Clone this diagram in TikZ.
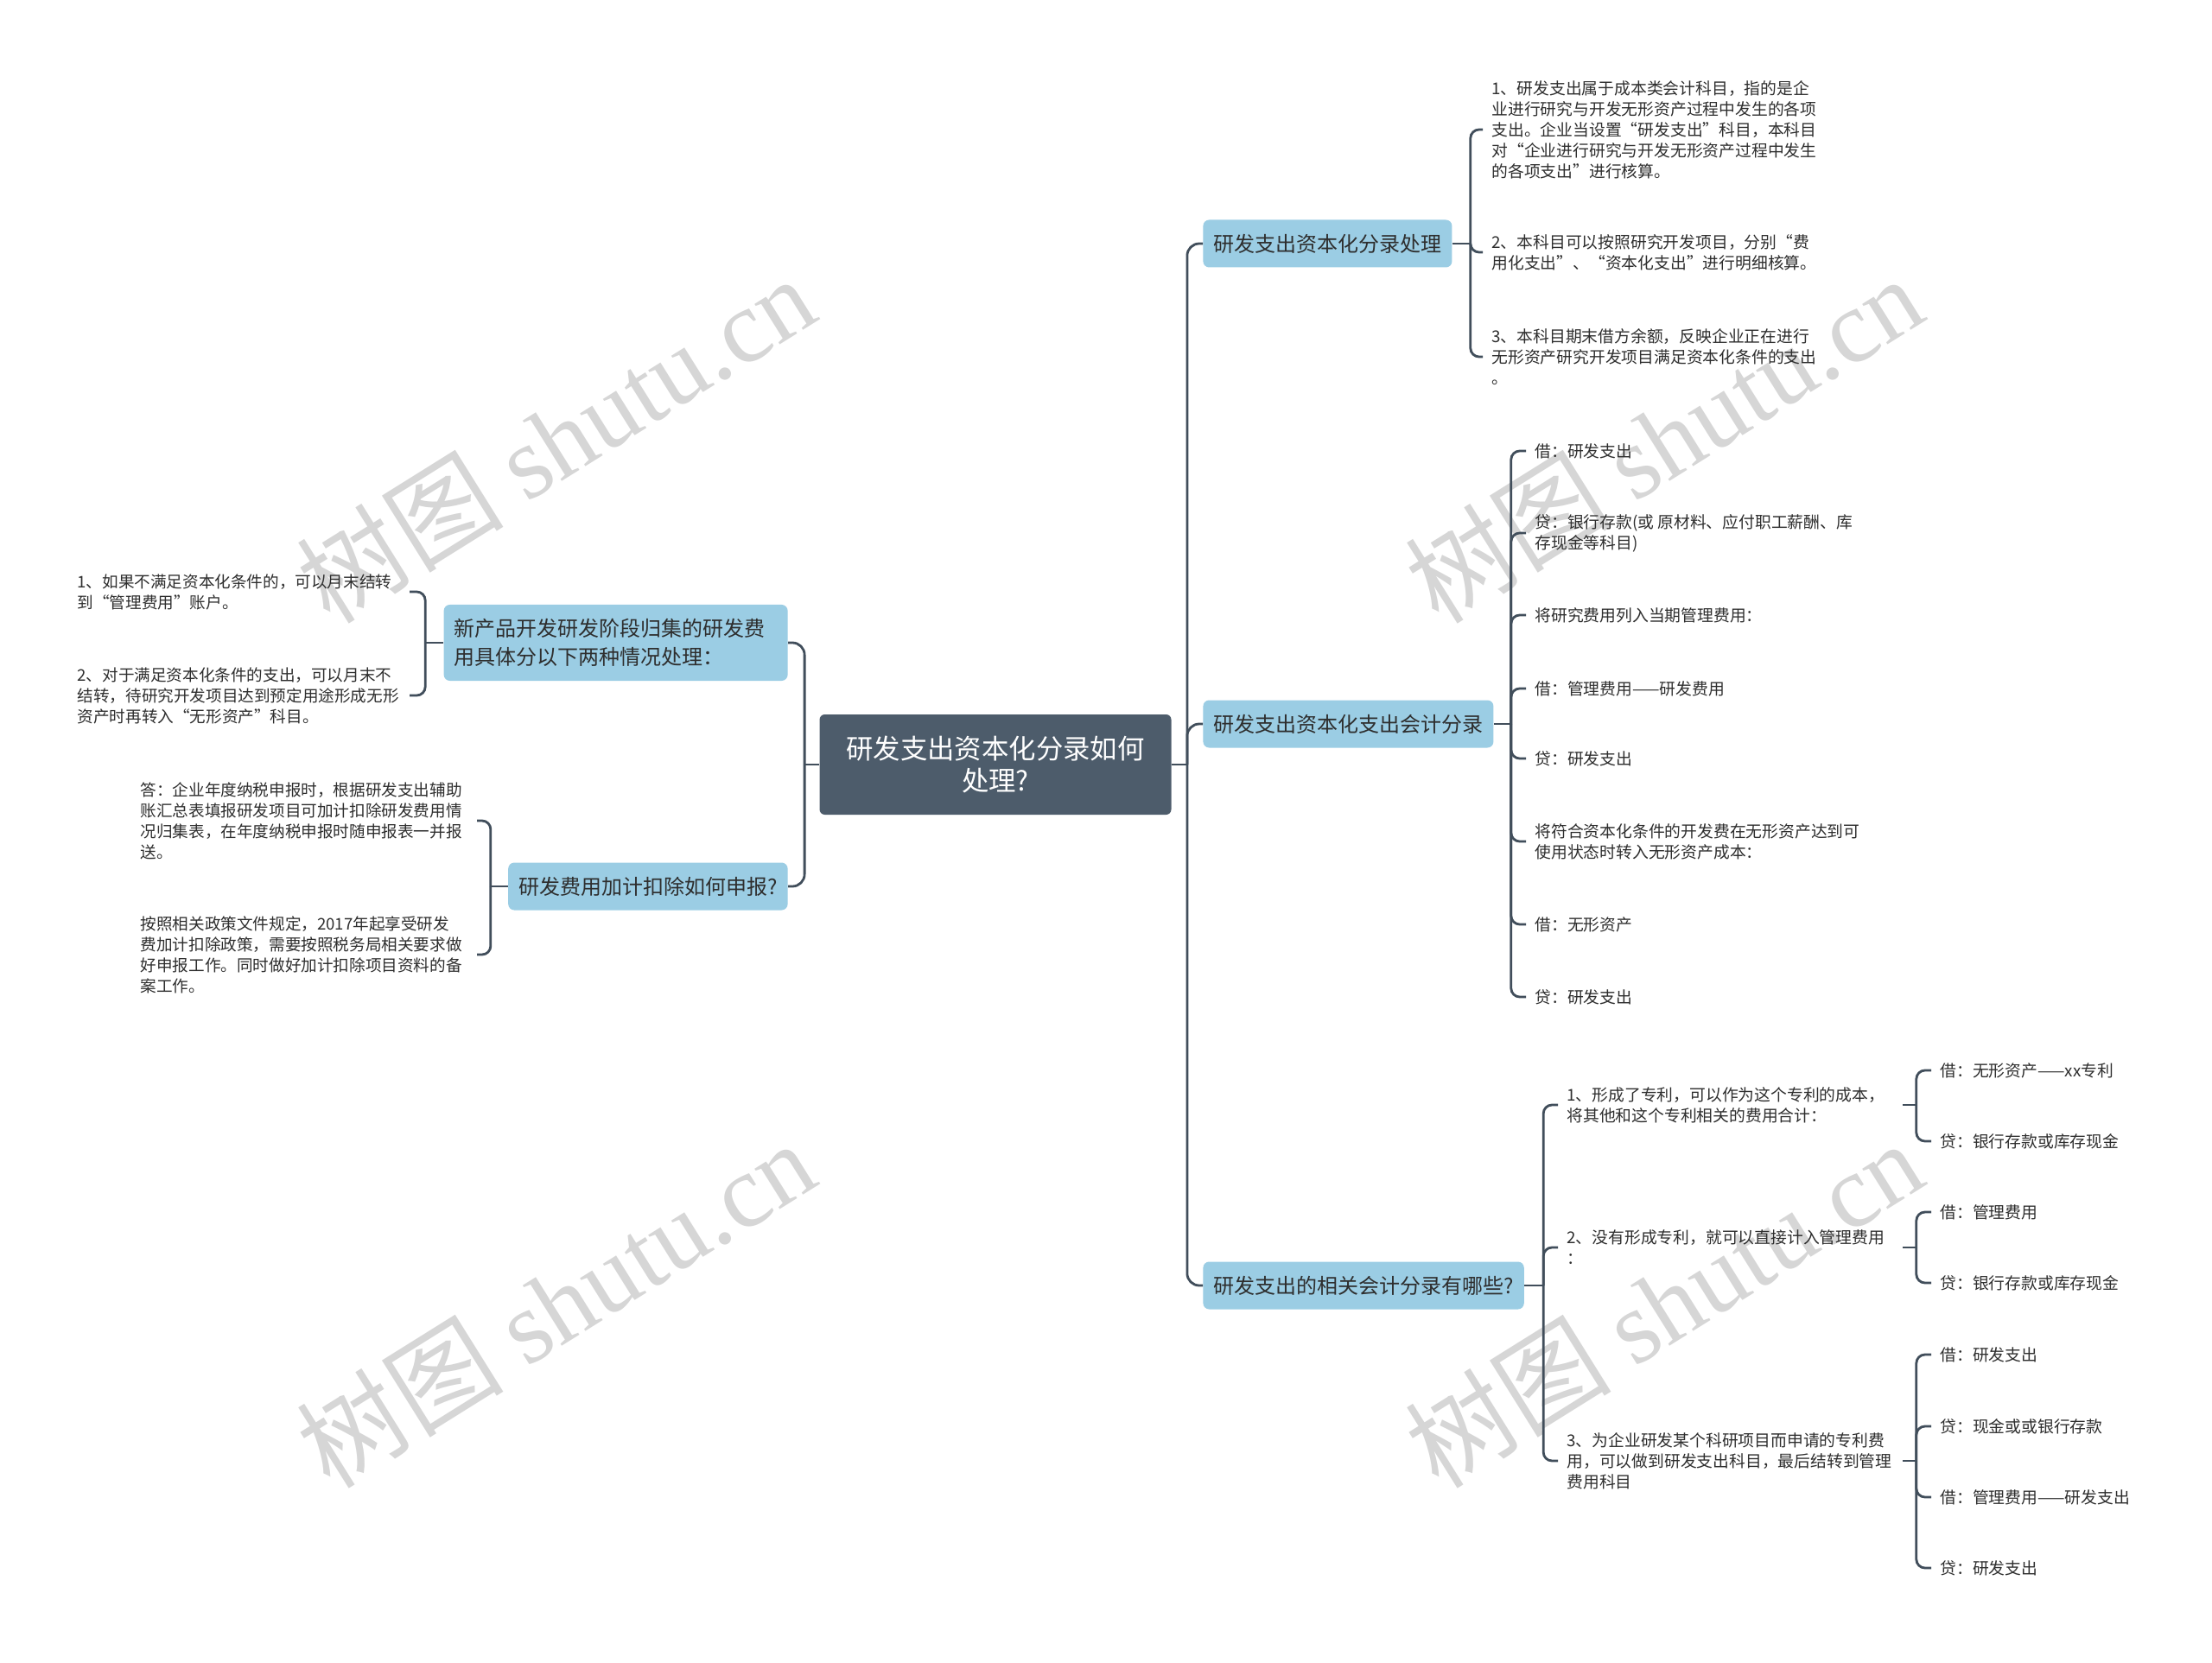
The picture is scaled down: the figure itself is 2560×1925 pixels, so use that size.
\documentclass[tikz,border=0pt]{standalone}
\usepackage{fontspec}
\setmainfont{Noto Sans CJK SC}
\newfontfamily\marklatin{Liberation Serif}
\usepackage{xcolor}
\usetikzlibrary{positioning}
\definecolor{rootfill}{HTML}{4D5C6B}
\definecolor{topicfill}{HTML}{9BCDE4}
\definecolor{linkcol}{HTML}{414E5B}
\definecolor{inkcol}{HTML}{2E2E2E}
\tikzset{
    rootbox/.style={rectangle, rounded corners=3pt, fill=rootfill, text=white, minimum width=203.5pt, minimum height=58pt, align=center, font=\fontsize{15.7pt}{18.5pt}\selectfont},
    topic/.style={rectangle, rounded corners=3.5pt, fill=topicfill, text=inkcol, minimum height=27.5pt, inner xsep=6pt, font=\fontsize{12pt}{16.5pt}\selectfont},
    leafr/.style={anchor=west, align=left, inner xsep=5pt, inner ysep=1pt, text=inkcol, font=\fontsize{9.4pt}{12pt}\selectfont},
    leafl/.style={anchor=east, align=left, inner xsep=5pt, inner ysep=1pt, text=inkcol, font=\fontsize{9.3pt}{12pt}\selectfont},
    wmark/.style={rotate=32, text=black!16, font=\fontsize{60pt}{64pt}\selectfont},
    branchline/.style={draw=linkcol, line width=1.4pt, rounded corners=7pt},
    leafline/.style={draw=linkcol, line width=1.4pt, rounded corners=5pt}
}
\begin{document}
\begin{tikzpicture}[x=0.5pt, y=-0.5pt]
  \useasboundingbox (0,0) rectangle (2560,1925);
  \fill[white] (0,0) rectangle (2560,1925);
  \node[wmark] (wm1) at (643,508) {树图 {\marklatin shutu.cn}};
  \node[wmark] (wm2) at (1925,508) {树图 {\marklatin shutu.cn}};
  \node[wmark] (wm3) at (643,1509) {树图 {\marklatin shutu.cn}};
  \node[wmark] (wm4) at (1925,1509) {树图 {\marklatin shutu.cn}};

  \node[rootbox] (root) at (1152,885) {研发支出资本化分录如何\\处理?};

  \node[topic, anchor=west] (capproc) at (1392,282) {研发支出资本化分录处理};
  \node[topic, anchor=west] (capentry) at (1392,838) {研发支出资本化支出会计分录};
  \node[topic, anchor=west] (related) at (1392,1488) {研发支出的相关会计分录有哪些?};
  \node[topic, anchor=east, minimum height=44pt, text width=187pt, align=left] (newprod) at (912,744) {新产品开发研发阶段归集的研发费\\用具体分以下两种情况处理：};
  \node[topic, anchor=east] (deduct) at (912,1026) {研发费用加计扣除如何申报?};

  \node[leafr] (a1) at (1716,150) {1、研发支出属于成本类会计科目，指的是企\\业进行研究与开发无形资产过程中发生的各项\\支出。企业当设置“研发支出”科目，本科目\\对“企业进行研究与开发无形资产过程中发生\\的各项支出”进行核算。};
  \node[leafr] (a2) at (1716,292) {2、本科目可以按照研究开发项目，分别“费\\用化支出”、“资本化支出”进行明细核算。};
  \node[leafr] (a3) at (1716,413) {3、本科目期末借方余额，反映企业正在进行\\无形资产研究开发项目满足资本化条件的支出\\。};

  \node[leafr] (b1) at (1766,522) {借：研发支出};
  \node[leafr] (b2) at (1766,617) {贷：银行存款(或 原材料、应付职工薪酬、库\\存现金等科目)};
  \node[leafr] (b3) at (1766,712) {将研究费用列入当期管理费用：};
  \node[leafr] (b4) at (1766,797) {借：管理费用——研发费用};
  \node[leafr] (b5) at (1766,878) {贷：研发支出};
  \node[leafr] (b6) at (1766,974) {将符合资本化条件的开发费在无形资产达到可\\使用状态时转入无形资产成本：};
  \node[leafr] (b7) at (1766,1070) {借：无形资产};
  \node[leafr] (b8) at (1766,1154) {贷：研发支出};

  \node[leafr, text width=189pt] (s1) at (1803,1279) {1、形成了专利，可以作为这个专利的成本，\\将其他和这个专利相关的费用合计：};
  \node[leafr, text width=189pt] (s2) at (1803,1444) {2、没有形成专利，就可以直接计入管理费用\\：};
  \node[leafr, text width=189pt] (s3) at (1803,1691) {3、为企业研发某个科研项目而申请的专利费\\用，可以做到研发支出科目，最后结转到管理\\费用科目};

  \node[leafr] (t11) at (2235,1239) {借：无形资产——xx专利};
  \node[leafr] (t12) at (2235,1321) {贷：银行存款或库存现金};
  \node[leafr] (t21) at (2235,1403) {借：管理费用};
  \node[leafr] (t22) at (2235,1485) {贷：银行存款或库存现金};
  \node[leafr] (t31) at (2235,1568) {借：研发支出};
  \node[leafr] (t32) at (2235,1651) {贷：现金或或银行存款};
  \node[leafr] (t33) at (2235,1733) {借：管理费用——研发支出};
  \node[leafr] (t34) at (2235,1815) {贷：研发支出};

  \node[leafl, text width=187pt] (p1) at (474,685) {1、如果不满足资本化条件的，可以月末结转\\到“管理费用”账户。};
  \node[leafl, text width=187pt] (p2) at (474,805) {2、对于满足资本化条件的支出，可以月末不\\结转，待研究开发项目达到预定用途形成无形\\资产时再转入“无形资产”科目。};
  \node[leafl, text width=189.5pt] (q1) at (552,950) {答：企业年度纳税申报时，根据研发支出辅助\\账汇总表填报研发项目可加计扣除研发费用情\\况归集表，在年度纳税申报时随申报表一并报\\送。};
  \node[leafl, text width=189.5pt] (q2) at (552,1105) {按照相关政策文件规定，2017年起享受研发\\费加计扣除政策，需要按照税务局相关要求做\\好申报工作。同时做好加计扣除项目资料的备\\案工作。};

  \draw[branchline] (root.east) -- ++(18,0) coordinate (rhub);
  \draw[branchline] (rhub) |- (capproc.west);
  \draw[branchline] (rhub) |- (capentry.west);
  \draw[branchline] (rhub) |- (related.west);
  \draw[branchline] (root.west) -- ++(-17,0) coordinate (lhub);
  \draw[branchline] (lhub) |- (newprod.east);
  \draw[branchline] (lhub) |- (deduct.east);

  \draw[leafline] (capproc.east) -- ++(21,0) coordinate (ahub);
  \draw[leafline] (ahub) |- (a1.west);
  \draw[leafline] (ahub) |- (a2.west);
  \draw[leafline] (ahub) |- (a3.west);

  \draw[leafline] (capentry.east) -- ++(20,0) coordinate (bhub);
  \draw[leafline] (bhub) |- (b1.west);
  \draw[leafline] (bhub) |- (b2.west);
  \draw[leafline] (bhub) |- (b3.west);
  \draw[leafline] (bhub) |- (b4.west);
  \draw[leafline] (bhub) |- (b5.west);
  \draw[leafline] (bhub) |- (b6.west);
  \draw[leafline] (bhub) |- (b7.west);
  \draw[leafline] (bhub) |- (b8.west);

  \draw[leafline] (related.east) -- ++(22,0) coordinate (shub);
  \draw[leafline] (shub) |- (s1.west);
  \draw[leafline] (shub) |- (s2.west);
  \draw[leafline] (shub) |- (s3.west);

  \draw[leafline] (s1.east) -- ++(16,0) coordinate (s1hub);
  \draw[leafline] (s1hub) |- (t11.west);
  \draw[leafline] (s1hub) |- (t12.west);
  \draw[leafline] (s2.east) -- ++(16,0) coordinate (s2hub);
  \draw[leafline] (s2hub) |- (t21.west);
  \draw[leafline] (s2hub) |- (t22.west);
  \draw[leafline] (s3.east) -- ++(16,0) coordinate (s3hub);
  \draw[leafline] (s3hub) |- (t31.west);
  \draw[leafline] (s3hub) |- (t32.west);
  \draw[leafline] (s3hub) |- (t33.west);
  \draw[leafline] (s3hub) |- (t34.west);

  \draw[leafline] (newprod.west) -- ++(-21,0) coordinate (phub);
  \draw[leafline] (phub) |- (p1.east);
  \draw[leafline] (phub) |- (p2.east);
  \draw[leafline] (deduct.west) -- ++(-20,0) coordinate (qhub);
  \draw[leafline] (qhub) |- (q1.east);
  \draw[leafline] (qhub) |- (q2.east);
\end{tikzpicture}
\end{document}
